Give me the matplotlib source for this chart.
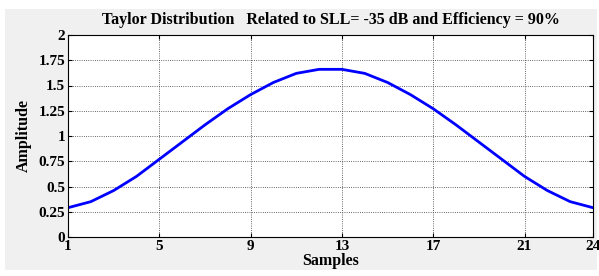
import matplotlib
matplotlib.use("Agg")
import matplotlib.pyplot as plt

# Taylor distribution samples
samples = list(range(1, 25))
amplitude = [0.29, 0.35, 0.46, 0.60, 0.77, 0.94, 1.11, 1.27, 1.41, 1.53, 1.62, 1.66,
             1.66, 1.62, 1.53, 1.41, 1.27, 1.11, 0.94, 0.77, 0.60, 0.46, 0.35, 0.29]
xticks = [1, 5, 9, 13, 17, 21, 24]
yticks = [0, 0.25, 0.5, 0.75, 1, 1.25, 1.5, 1.75, 2]
ylabels = ["0", "0.25", "0.5", "0.75", "1", "1.25", "1.5", "1.75", "2"]

plt.rcParams['font.family'] = ['Liberation Serif', 'DejaVu Serif']
plt.rcParams['font.weight'] = 'bold'

fig = plt.figure(figsize=(5.99, 2.76), dpi=100, facecolor='white')
# gray figure panel like matlab
fig.patches.append(plt.Rectangle((5 / 599, 1 - 270 / 276), 592 / 599, 261 / 276,
                                 transform=fig.transFigure, facecolor='#f0f0f0',
                                 edgecolor='none', zorder=-10))
ax = fig.add_axes([68 / 599, 1 - 237 / 276, 525 / 599, 202 / 276])

ax.plot(samples, amplitude, color='#0000ff', linewidth=2)
ax.set_xlim(1, 24)
ax.set_ylim(0, 2)
ax.set_xticks(xticks)
ax.set_yticks(yticks)
ax.set_yticklabels(ylabels)
ax.grid(True, color='#333333', linestyle=':', linewidth=0.6)
ax.tick_params(direction='in', top=True, right=True, labelsize=11, length=3, pad=2)
for lbl in ax.get_xticklabels() + ax.get_yticklabels():
    lbl.set_fontweight('bold')
ax.set_xlabel("Samples", fontsize=11.5, fontweight='bold', labelpad=0)
ax.set_ylabel("Amplitude", fontsize=11.5, fontweight='bold', labelpad=5)
ax.set_title("Taylor Distribution   Related to SLL= -35 dB and Efficiency = 90%",
             fontsize=11.5, fontweight='bold', pad=8)

plt.savefig("out.png", dpi=100)
